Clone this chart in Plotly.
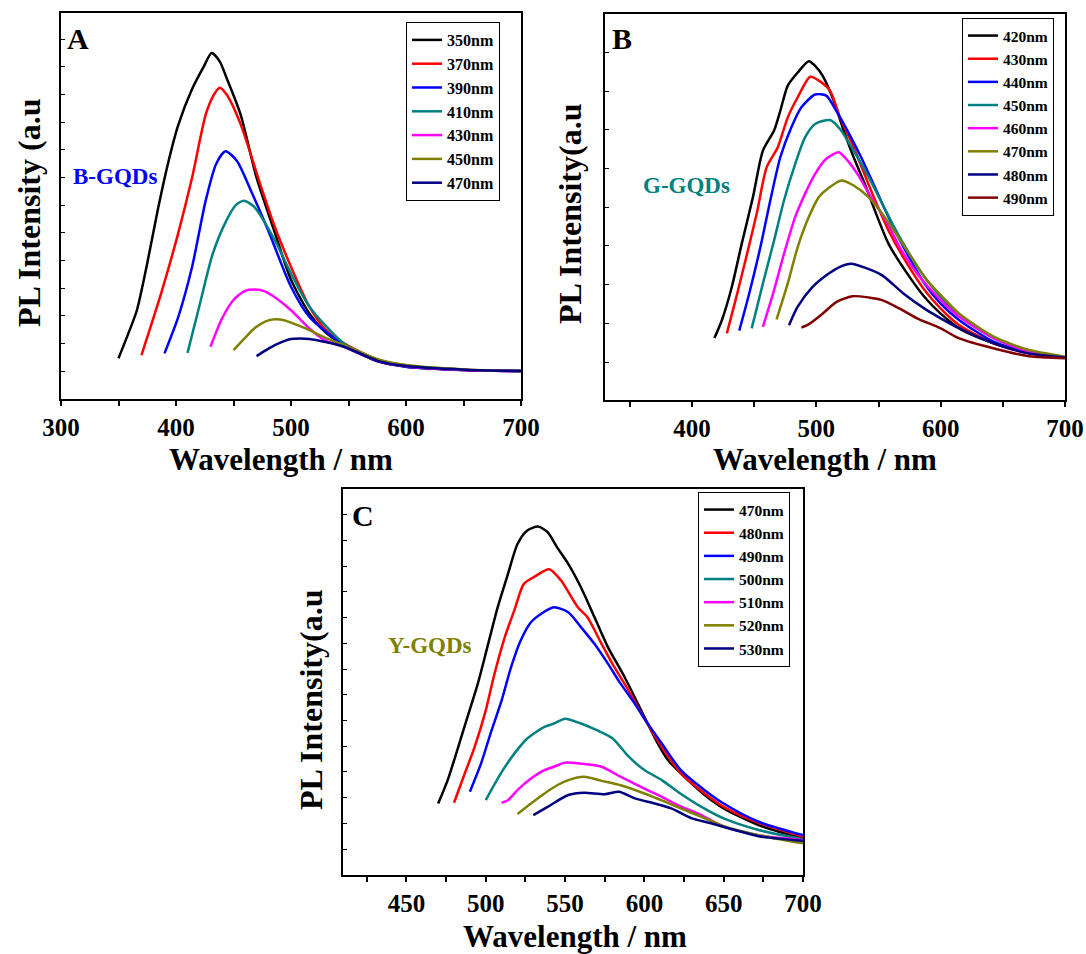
import plotly.graph_objects as go

W, H = 1086, 954

# ---------------- Panel A (B-GQDs) ----------------
a_names = ["350nm", "370nm", "390nm", "410nm", "430nm", "450nm", "470nm"]
a350_x = [350, 358, 366, 375, 384, 393, 402, 414, 424, 431, 438, 444, 456, 470, 486, 500, 516, 530, 546, 576, 600, 651, 700]
a350_y = [0.46, 1.3, 2.2, 3.9, 5.8, 7.5, 8.9, 10.2, 11.0, 11.5, 11.2, 10.6, 9.3, 7.0, 5.0, 3.3, 2.08, 1.4, 0.94, 0.34, 0.16, 0.04, 0.0]
a370_x = [370, 387, 402, 414, 426, 433, 438, 444, 456, 474, 486, 500, 516, 530, 546, 576, 600, 651, 700]
a370_y = [0.58, 2.8, 5.0, 7.0, 9.3, 10.0, 10.25, 10.0, 8.95, 6.66, 5.2, 3.77, 2.33, 1.5, 1.0, 0.4, 0.18, 0.04, 0.0]
a390_x = [390, 402, 414, 426, 435, 443, 453, 465, 480, 500, 516, 546, 576, 600, 651, 700]
a390_y = [0.64, 1.96, 3.77, 6.2, 7.5, 7.95, 7.6, 6.54, 5.1, 3.05, 1.96, 0.94, 0.35, 0.16, 0.04, 0.0]
a410_x = [410, 420, 432, 444, 452, 459, 468, 486, 500, 516, 546, 576, 600, 651, 700]
a410_y = [0.66, 2.3, 4.25, 5.46, 6.0, 6.16, 5.94, 4.73, 3.53, 2.33, 1.0, 0.4, 0.2, 0.05, 0.0]
a430_x = [430, 440, 450, 460, 468, 476, 483, 500, 516, 530, 546, 576, 600, 651, 700]
a430_y = [0.88, 1.9, 2.57, 2.9, 2.95, 2.9, 2.75, 2.2, 1.54, 1.1, 0.88, 0.35, 0.17, 0.04, 0.0]
a450_x = [450, 460, 468, 478, 486, 494, 500, 516, 530, 546, 576, 600, 651, 700]
a450_y = [0.76, 1.2, 1.54, 1.8, 1.87, 1.84, 1.75, 1.48, 1.2, 0.94, 0.42, 0.22, 0.06, 0.0]
a470_x = [470, 478, 486, 500, 508, 516, 530, 546, 576, 600, 651, 700]
a470_y = [0.54, 0.75, 0.94, 1.16, 1.18, 1.16, 1.05, 0.88, 0.36, 0.18, 0.05, 0.0]

# ---------------- Panel B (G-GQDs) ----------------
b_names = ["420nm", "430nm", "440nm", "450nm", "460nm", "470nm", "480nm", "490nm"]
b420_x = [418, 424, 432, 440, 449, 457, 466, 471, 477, 485, 494, 499, 505, 514, 522, 530, 539, 547, 558, 573, 587, 600, 615, 629, 651, 676, 700]
b420_y = [0.62, 1.08, 1.94, 3.06, 4.26, 5.46, 5.98, 6.49, 7.14, 7.48, 7.77, 7.65, 7.4, 6.75, 5.98, 5.29, 4.6, 3.92, 3.06, 2.29, 1.68, 1.25, 0.87, 0.65, 0.4, 0.21, 0.12]
b430_x = [428, 435, 443, 452, 460, 469, 477, 485, 495, 502, 511, 519, 530, 544, 558, 573, 587, 600, 615, 643, 671, 700]
b430_y = [0.74, 1.6, 2.63, 3.83, 5.03, 5.55, 6.32, 6.84, 7.37, 7.27, 7.01, 6.32, 5.55, 4.43, 3.4, 2.54, 1.86, 1.38, 0.95, 0.48, 0.24, 0.12]
b440_x = [438, 446, 455, 463, 471, 480, 488, 499, 508, 516, 525, 536, 547, 558, 573, 587, 600, 615, 643, 671, 700]
b440_y = [0.81, 1.77, 2.97, 4.18, 5.29, 6.07, 6.58, 6.91, 6.88, 6.49, 5.98, 5.29, 4.52, 3.75, 2.8, 2.03, 1.51, 1.08, 0.52, 0.24, 0.12]
b450_x = [448, 457, 466, 474, 483, 491, 499, 511, 519, 530, 542, 553, 564, 578, 589, 600, 615, 643, 671, 700]
b450_y = [0.87, 2.03, 3.14, 4.18, 5.12, 5.81, 6.15, 6.25, 6.02, 5.46, 4.78, 4.09, 3.4, 2.63, 2.11, 1.68, 1.21, 0.61, 0.27, 0.12]
b460_x = [457, 466, 474, 483, 491, 499, 508, 518, 525, 533, 544, 556, 567, 581, 600, 615, 643, 671, 700]
b460_y = [0.91, 1.86, 2.8, 3.75, 4.35, 4.86, 5.25, 5.42, 5.21, 4.86, 4.26, 3.66, 2.97, 2.29, 1.6, 1.17, 0.61, 0.27, 0.12]
b470_x = [468, 477, 485, 494, 502, 511, 520, 530, 542, 553, 564, 578, 589, 600, 615, 643, 671, 700]
b470_y = [1.1, 2.03, 2.97, 3.75, 4.26, 4.52, 4.69, 4.56, 4.26, 3.83, 3.32, 2.63, 2.11, 1.73, 1.25, 0.65, 0.31, 0.14]
b480_x = [478, 485, 497, 508, 519, 528, 539, 553, 570, 587, 600, 615, 643, 671, 700]
b480_y = [0.95, 1.43, 1.94, 2.24, 2.46, 2.54, 2.44, 2.24, 1.77, 1.38, 1.13, 0.87, 0.48, 0.22, 0.12]
b490_x = [488, 494, 505, 516, 529, 542, 553, 567, 581, 600, 615, 643, 671, 700]
b490_y = [0.89, 0.98, 1.25, 1.55, 1.7, 1.67, 1.6, 1.38, 1.13, 0.87, 0.61, 0.35, 0.15, 0.1]

# ---------------- Panel C (Y-GQDs) ----------------
c_names = ["470nm", "480nm", "490nm", "500nm", "510nm", "520nm", "530nm"]
c470_x = [470, 476, 482, 488.5, 495, 501, 507.5, 514, 520, 526, 533, 539, 545, 552, 560, 568.5, 577, 587.5, 600, 608.5, 615, 623, 638, 650, 672, 700]
c470_y = [1.77, 2.68, 3.84, 5.14, 6.43, 7.85, 9.4, 10.7, 11.86, 12.38, 12.54, 12.32, 11.73, 11.09, 10.18, 9.02, 7.85, 6.69, 5.14, 4.1, 3.45, 2.94, 2.1, 1.58, 0.93, 0.41]
c480_x = [480, 486, 493, 500, 505, 512, 518, 524, 531, 540, 547.5, 558, 564, 573, 581, 590, 600, 611, 623, 638, 650, 672, 700]
c480_y = [1.8, 2.81, 3.97, 5.39, 6.69, 8.24, 9.28, 10.31, 10.6, 10.88, 10.44, 9.4, 9.02, 7.98, 7.08, 6.17, 5.07, 3.97, 2.94, 2.16, 1.64, 1.02, 0.48]
c490_x = [490, 497, 503, 510, 516, 522, 528.5, 535, 543, 552, 560, 568.5, 577, 585, 594, 600, 611, 623, 638, 650, 672, 700]
c490_y = [2.23, 3.32, 4.49, 5.78, 7.08, 8.11, 8.82, 9.15, 9.4, 9.21, 8.63, 7.98, 7.21, 6.43, 5.65, 5.07, 4.1, 3.07, 2.29, 1.77, 1.06, 0.54]
c500_x = [500, 509.5, 518, 526, 537, 543, 550, 560, 570, 580, 590, 600, 611, 621, 636, 650, 672, 700]
c500_y = [1.9, 2.94, 3.71, 4.29, 4.75, 4.88, 5.07, 4.88, 4.62, 4.3, 3.6, 3.07, 2.68, 2.23, 1.64, 1.19, 0.74, 0.38]
c510_x = [510, 514, 520, 528.5, 537, 543, 550, 560, 573, 585, 600, 611, 621, 636, 650, 672, 700]
c510_y = [1.8, 1.9, 2.29, 2.74, 3.07, 3.2, 3.36, 3.32, 3.2, 2.81, 2.35, 2.03, 1.71, 1.32, 0.87, 0.54, 0.35]
c520_x = [520, 528.5, 537, 545, 552, 562, 573, 585, 600, 613, 623, 636, 650, 672, 700]
c520_y = [1.36, 1.77, 2.16, 2.48, 2.68, 2.81, 2.65, 2.48, 2.16, 1.84, 1.58, 1.25, 0.89, 0.54, 0.22]
c530_x = [530, 539, 552, 562, 575, 584, 594, 606.5, 617, 630, 642, 657, 672, 700]
c530_y = [1.32, 1.64, 2.1, 2.19, 2.13, 2.23, 1.97, 1.77, 1.58, 1.19, 1.0, 0.74, 0.5, 0.32]

colors_a = ["#000000", "#FF0000", "#0000FF", "#008080", "#FF00FF", "#808000", "#000080"]
colors_b = ["#000000", "#FF0000", "#0000FF", "#008080", "#FF00FF", "#808000", "#000080", "#800000"]
colors_c = ["#000000", "#FF0000", "#0000FF", "#008080", "#FF00FF", "#808000", "#000080"]

x_ticks_a = [300, 400, 500, 600, 700]
x_ticks_b = [400, 500, 600, 700]
x_ticks_c = [450, 500, 550, 600, 650, 700]

FONT = "Liberation Serif"

fig = go.Figure()

panels = [
    ("x", "y", "legend", a_names, [(a350_x, a350_y), (a370_x, a370_y), (a390_x, a390_y), (a410_x, a410_y),
                                   (a430_x, a430_y), (a450_x, a450_y), (a470_x, a470_y)], colors_a),
    ("x2", "y2", "legend2", b_names, [(b420_x, b420_y), (b430_x, b430_y), (b440_x, b440_y), (b450_x, b450_y),
                                      (b460_x, b460_y), (b470_x, b470_y), (b480_x, b480_y), (b490_x, b490_y)], colors_b),
    ("x3", "y3", "legend3", c_names, [(c470_x, c470_y), (c480_x, c480_y), (c490_x, c490_y), (c500_x, c500_y),
                                      (c510_x, c510_y), (c520_x, c520_y), (c530_x, c530_y)], colors_c),
]

for xa, ya, lg, names, series, cols in panels:
    for name, (xs, ys), col in zip(names, series, cols):
        fig.add_trace(go.Scatter(
            x=xs, y=ys, name=name, mode="lines", xaxis=xa, yaxis=ya, legend=lg,
            line=dict(color=col, width=2.5, shape="spline", smoothing=0.7),
        ))

def px_dom_x(x0, x1):
    return [x0 / W, x1 / W]

def px_dom_y(top, bottom):
    return [1 - bottom / H, 1 - top / H]

tickfont = dict(family=FONT, size=25, color="black", weight="bold")

def xaxis_cfg(dom, rng, tickvals, minor_dtick, anchor):
    return dict(
        domain=dom, range=rng, anchor=anchor, automargin=False,
        tickmode="array", tickvals=tickvals, ticktext=[str(v) for v in tickvals],
        ticks="outside", ticklen=5, tickwidth=1.5, tickcolor="black",
        minor=dict(dtick=minor_dtick, tick0=0, ticks="outside", ticklen=5, tickwidth=1.5, tickcolor="black"),
        showline=True, linewidth=2, linecolor="black", mirror=True,
        showgrid=False, zeroline=False, tickfont=tickfont,
    )

def yaxis_cfg(dom, rng, anchor):
    return dict(
        domain=dom, range=rng, anchor=anchor, automargin=False,
        tickmode="linear", tick0=0, dtick=1,
        ticks="inside", ticklen=4, tickwidth=1.2, tickcolor="black",
        showline=True, linewidth=2, linecolor="black", mirror=True,
        showgrid=False, zeroline=False, showticklabels=False,
    )

def yaxis_right(over, rng, anchor):
    return dict(
        overlaying=over, side="right", range=rng, anchor=anchor, automargin=False,
        tickmode="linear", tick0=0, dtick=1,
        ticks="outside", ticklen=4, tickwidth=1.2, tickcolor="black",
        showline=False, showgrid=False, zeroline=False, showticklabels=False,
    )

ya_rng = [-1.01, 12.95]
yb_rng = [-0.98, 8.99]
yc_rng = [-1.01, 14.0]

fig.update_layout(
    width=W, height=H, margin=dict(l=0, r=0, t=0, b=0, pad=0, autoexpand=False),
    paper_bgcolor="white", plot_bgcolor="white",
    xaxis=xaxis_cfg(px_dom_x(61, 521), [300, 700], x_ticks_a, 50, "y"),
    yaxis=yaxis_cfg(px_dom_y(13, 399), ya_rng, "x"),
    xaxis2=xaxis_cfg(px_dom_x(605, 1065), [330, 700], x_ticks_b, 50, "y2"),
    yaxis2=yaxis_cfg(px_dom_y(14, 400), yb_rng, "x2"),
    xaxis3=xaxis_cfg(px_dom_x(343, 803), [410, 700], x_ticks_c, 25, "y3"),
    yaxis3=yaxis_cfg(px_dom_y(489, 875), yc_rng, "x3"),
    yaxis4=yaxis_right("y", ya_rng, "x"),
    yaxis5=yaxis_right("y2", yb_rng, "x2"),
    yaxis6=yaxis_right("y3", yc_rng, "x3"),
    showlegend=True,
)

for key, lx, ly, fs in [("legend", 406, 22, 16), ("legend2", 962, 18, 15.5), ("legend3", 698, 492, 15.5)]:
    fig.layout[key] = dict(
        x=lx / W, y=1 - ly / H, xanchor="left", yanchor="top",
        bgcolor="white", bordercolor="black", borderwidth=1,
        font=dict(family=FONT, size=fs, color="black", weight="bold"),
        itemwidth=30, tracegroupgap=0,
    )

def ann(text, cx, cy, size, color="black", angle=0):
    fig.add_annotation(
        text=text, x=cx / W, y=1 - cy / H, xref="paper", yref="paper",
        xanchor="center", yanchor="middle", showarrow=False, textangle=angle,
        font=dict(family=FONT, size=size, color=color, weight="bold"),
    )

# panel letters
ann("A", 78, 38, 30)
ann("B", 622, 38, 30)
ann("C", 363, 515, 30)
# sample labels
ann("B-GQDs", 115, 176, 23, "#0000FF")
ann("G-GQDs", 686, 186, 23, "#008080")
ann("Y-GQDs", 430, 645, 23, "#808000")
# axis titles
ann("Wavelength / nm", 281, 459, 31)
ann("Wavelength / nm", 825, 459, 31)
ann("Wavelength / nm", 575, 936, 31)
ann("PL Intensity (a.u", 29, 213, 32, angle=-90)
ann("PL Intensity(a.u", 570, 214, 32, angle=-90)
ann("PL Intensity(a.u", 311, 700, 32, angle=-90)

fig.write_html("out.html")
